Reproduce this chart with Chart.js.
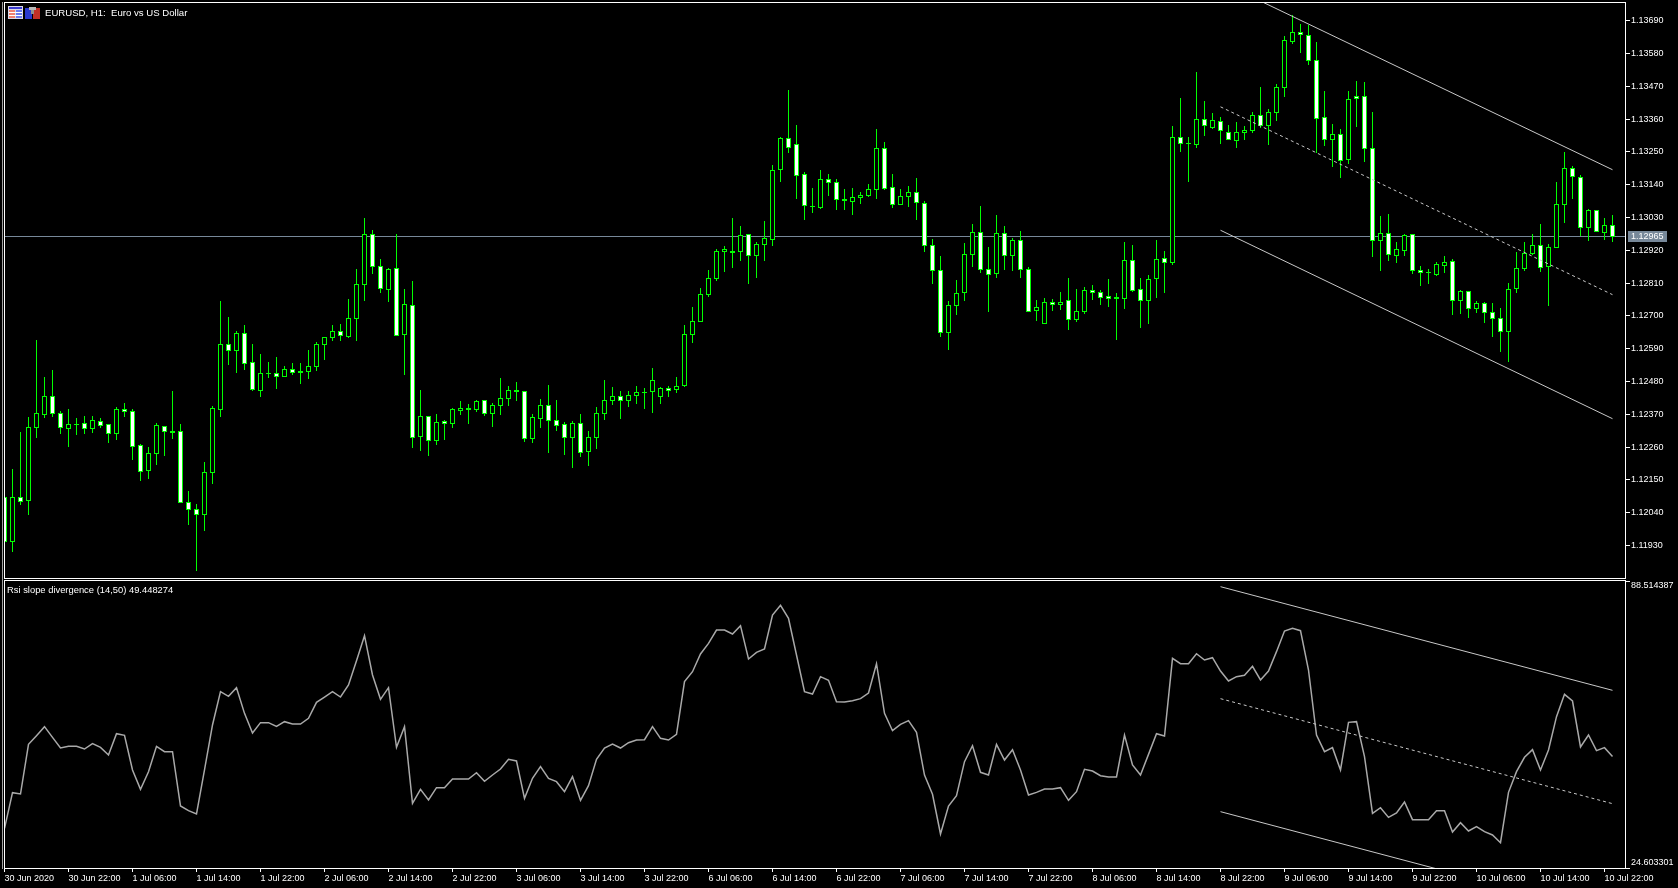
<!DOCTYPE html>
<html>
<head>
<meta charset="utf-8">
<title>EURUSD, H1</title>
<style>
    html, body { margin: 0; background: #000; overflow: hidden; }
    canvas { position: absolute; left: 0; }
    #priceChart { top: 0; }
    #rsiChart { top: 580px; }
    .caption { position: absolute; color: #fff; font: 9.6px "Liberation Sans", sans-serif; white-space: pre; line-height: 12px; }
    #strip { position: absolute; left: 2px; top: 2px; width: 1px; height: 867px; background: #a0a0a0; }
    svg { position: absolute; }
</style>
</head>
<body>
<div id="strip"></div>
<canvas id="priceChart" width="1678" height="580"></canvas>
<canvas id="rsiChart" width="1678" height="308"></canvas>
<svg style="left:8px;top:6px" width="15" height="13">
    <rect width="15" height="13" fill="#d8d8e8"/>
    <rect x="1" y="1" width="13" height="2" fill="#3a3ad0"/>
    <rect x="1" y="4" width="6" height="8" fill="#f08070"/>
    <rect x="8" y="4" width="6" height="8" fill="#6a7af0"/>
    <rect x="1" y="6" width="13" height="1" fill="#fff"/>
    <rect x="1" y="9" width="13" height="1" fill="#fff"/>
</svg>
<svg style="left:25px;top:7px" width="15" height="12">
    <rect y="1" width="7" height="11" fill="#2a3ad0"/>
    <rect x="8" y="1" width="7" height="11" fill="#c03028"/>
    <rect x="4" y="0" width="7" height="3" fill="#b8b8b8"/>
    <rect x="6" y="3" width="3" height="4" fill="#909090"/>
</svg>
<div class="caption" style="left:45px;top:7px">EURUSD, H1:  Euro vs US Dollar</div>
<div class="caption" style="left:7px;top:584px;font-size:9.4px">Rsi slope divergence (14,50) 49.448274</div>

<script src="https://cdn.jsdelivr.net/npm/chart.js"></script>
<script>
// candles, left to right, one per hour
const opens = [
    1.12091,1.11942,1.12091,1.12080,1.12325,1.12370,1.12430,1.12373,1.12321,1.12336,
    1.12340,1.12321,1.12346,1.12336,1.12305,1.12386,1.12380,1.12266,1.12181,1.12238,
    1.12330,1.12313,1.12313,1.12075,1.12051,1.12033,1.12174,1.12385,1.12605,1.12583,
    1.12641,1.12544,1.12449,1.12507,1.12507,1.12496,1.12521,1.12514,1.12513,1.12529,
    1.12603,1.12627,1.12648,1.12630,1.12690,1.12805,1.12973,1.12866,1.12788,1.12859,
    1.12636,1.12735,1.12295,1.12363,1.12281,1.12346,1.12338,1.12382,1.12390,1.12385,
    1.12417,1.12372,1.12399,1.12422,1.12450,1.12447,1.12288,1.12355,1.12400,1.12350,
    1.12336,1.12291,1.12340,1.12244,1.12291,1.12372,1.12415,1.12430,1.12415,1.12432,
    1.12443,1.12446,1.12429,1.12457,1.12452,1.12466,1.12637,1.12680,1.12771,1.12825,
    1.12916,1.12916,1.12915,1.12973,1.12902,1.12939,1.12955,1.13190,1.13295,1.13275,
    1.13175,1.13066,1.13063,1.13158,1.13148,1.13091,1.13083,1.13096,1.13103,1.13123,
    1.13262,1.13131,1.13073,1.13100,1.13114,1.13077,1.12937,1.12853,1.12643,1.12734,
    1.12778,1.12905,1.12980,1.12856,1.12841,1.12977,1.12902,1.12953,1.12856,1.12717,
    1.12674,1.12745,1.12737,1.12752,1.12687,1.12714,1.12786,1.12779,1.12765,1.12762,
    1.12759,1.12886,1.12789,1.12752,1.12825,1.12893,1.12878,1.13299,1.13279,1.13274,
    1.13359,1.13333,1.13352,1.13315,1.13287,1.13314,1.13321,1.13372,1.13338,1.13381,
    1.13465,1.13619,1.13651,1.13641,1.13557,1.13366,1.13292,1.13309,1.13224,1.13436,
    1.13436,1.13262,1.12953,1.12977,1.12903,1.12918,1.12973,1.12853,1.12846,1.12840,
    1.12870,1.12883,1.12752,1.12782,1.12724,1.12742,1.12712,1.12692,1.12648,1.12791,
    1.12858,1.12908,1.12937,1.12866,1.12930,1.13074,1.13194,1.13165,1.12997,1.13054,
    1.12980,1.13003
];
const highs = [
    1.12091,1.12185,1.12309,1.12360,1.12619,1.12494,1.12518,1.12381,1.12386,1.12356,
    1.12364,1.12364,1.12356,1.12336,1.12394,1.12407,1.12386,1.12270,1.12260,1.12340,
    1.12330,1.12447,1.12336,1.12113,1.12069,1.12209,1.12397,1.12749,1.12695,1.12648,
    1.12668,1.12605,1.12571,1.12544,1.12561,1.12531,1.12541,1.12541,1.12584,1.12611,
    1.12628,1.12668,1.12672,1.12755,1.12856,1.13027,1.12988,1.12890,1.12862,1.12973,
    1.12790,1.12817,1.12451,1.12363,1.12371,1.12351,1.12390,1.12414,1.12404,1.12418,
    1.12417,1.12408,1.12490,1.12465,1.12478,1.12447,1.12371,1.12421,1.12468,1.12418,
    1.12343,1.12346,1.12371,1.12314,1.12393,1.12485,1.12461,1.12447,1.12447,1.12465,
    1.12457,1.12525,1.12460,1.12465,1.12495,1.12669,1.12730,1.12793,1.12854,1.12923,
    1.12934,1.13028,1.13001,1.12973,1.12947,1.13018,1.13205,1.13299,1.13456,1.13339,
    1.13181,1.13128,1.13188,1.13175,1.13158,1.13124,1.13128,1.13114,1.13141,1.13326,
    1.13282,1.13175,1.13124,1.13137,1.13161,1.13084,1.12957,1.12900,1.12749,1.12820,
    1.12943,1.13007,1.13067,1.12930,1.13037,1.13000,1.12960,1.12984,1.12865,1.12752,
    1.12759,1.12757,1.12780,1.12827,1.12790,1.12796,1.12803,1.12787,1.12823,1.12777,
    1.12946,1.12937,1.12826,1.12836,1.12953,1.12916,1.13335,1.13429,1.13299,1.13517,
    1.13420,1.13379,1.13366,1.13339,1.13349,1.13335,1.13382,1.13466,1.13393,1.13476,
    1.13638,1.13708,1.13679,1.13675,1.13617,1.13453,1.13343,1.13326,1.13453,1.13487,
    1.13483,1.13382,1.13035,1.13042,1.12947,1.12973,1.12973,1.12866,1.12856,1.12880,
    1.12900,1.12890,1.12786,1.12782,1.12749,1.12745,1.12743,1.12726,1.12810,1.12913,
    1.12948,1.12974,1.13007,1.12941,1.13149,1.13249,1.13201,1.13171,1.13058,1.13054,
    1.13028,1.13037
];
const lows = [
    1.11921,1.11909,1.12066,1.12032,1.12290,1.12358,1.12361,1.12304,1.12260,1.12300,
    1.12304,1.12307,1.12324,1.12274,1.12284,1.12361,1.12217,1.12146,1.12153,1.12200,
    1.12230,1.12287,1.12073,1.11998,1.11844,1.11978,1.12136,1.12361,1.12535,1.12508,
    1.12518,1.12447,1.12428,1.12492,1.12455,1.12496,1.12502,1.12471,1.12488,1.12515,
    1.12552,1.12616,1.12616,1.12626,1.12616,1.12750,1.12840,1.12777,1.12746,1.12635,
    1.12502,1.12257,1.12247,1.12230,1.12267,1.12284,1.12324,1.12367,1.12337,1.12377,
    1.12364,1.12328,1.12367,1.12398,1.12414,1.12277,1.12274,1.12324,1.12240,1.12314,
    1.12233,1.12190,1.12227,1.12196,1.12253,1.12351,1.12401,1.12354,1.12394,1.12404,
    1.12387,1.12374,1.12404,1.12428,1.12441,1.12461,1.12609,1.12680,1.12763,1.12817,
    1.12848,1.12860,1.12884,1.12808,1.12827,1.12884,1.12934,1.13149,1.13246,1.13092,
    1.13021,1.13045,1.13058,1.13102,1.13055,1.13055,1.13038,1.13075,1.13098,1.13092,
    1.13122,1.13062,1.13073,1.13065,1.13021,1.12914,1.12808,1.12630,1.12585,1.12703,
    1.12750,1.12865,1.12844,1.12713,1.12827,1.12854,1.12851,1.12827,1.12714,1.12683,
    1.12674,1.12716,1.12720,1.12652,1.12679,1.12706,1.12753,1.12736,1.12730,1.12619,
    1.12723,1.12781,1.12659,1.12673,1.12761,1.12777,1.12872,1.13250,1.13149,1.13263,
    1.13304,1.13327,1.13276,1.13292,1.13263,1.13290,1.13313,1.13330,1.13273,1.13354,
    1.13434,1.13612,1.13582,1.13541,1.13246,1.13270,1.13200,1.13162,1.13209,1.13333,
    1.13216,1.12897,1.12851,1.12884,1.12877,1.12901,1.12840,1.12800,1.12808,1.12834,
    1.12844,1.12703,1.12706,1.12693,1.12709,1.12676,1.12630,1.12579,1.12545,1.12776,
    1.12851,1.12903,1.12848,1.12733,1.12930,1.13011,1.13092,1.12967,1.12952,1.12980,
    1.12955,1.12949
];
const closes = [
    1.11942,1.12091,1.12077,1.12326,1.12373,1.12430,1.12372,1.12325,1.12336,1.12336,
    1.12321,1.12350,1.12332,1.12305,1.12386,1.12378,1.12261,1.12177,1.12239,1.12333,
    1.12311,1.12309,1.12073,1.12050,1.12033,1.12175,1.12390,1.12605,1.12583,1.12641,
    1.12540,1.12452,1.12507,1.12507,1.12496,1.12521,1.12510,1.12511,1.12531,1.12605,
    1.12628,1.12648,1.12635,1.12692,1.12806,1.12973,1.12865,1.12792,1.12856,1.12635,
    1.12739,1.12292,1.12363,1.12281,1.12343,1.12338,1.12386,1.12390,1.12386,1.12413,
    1.12372,1.12400,1.12423,1.12450,1.12447,1.12288,1.12360,1.12400,1.12348,1.12332,
    1.12291,1.12340,1.12241,1.12293,1.12373,1.12417,1.12430,1.12415,1.12433,1.12443,
    1.12443,1.12484,1.12457,1.12449,1.12464,1.12638,1.12682,1.12772,1.12826,1.12916,
    1.12923,1.12913,1.12970,1.12902,1.12940,1.12960,1.13188,1.13295,1.13264,1.13170,
    1.13069,1.13066,1.13158,1.13147,1.13090,1.13088,1.13098,1.13104,1.13124,1.13262,
    1.13126,1.13073,1.13101,1.13114,1.13079,1.12935,1.12852,1.12643,1.12735,1.12776,
    1.12906,1.12980,1.12855,1.12838,1.12977,1.12902,1.12953,1.12855,1.12714,1.12729,
    1.12745,1.12737,1.12745,1.12687,1.12715,1.12786,1.12778,1.12761,1.12759,1.12759,
    1.12886,1.12784,1.12752,1.12823,1.12890,1.12880,1.13299,1.13279,1.13279,1.13359,
    1.13338,1.13356,1.13321,1.13292,1.13315,1.13322,1.13372,1.13338,1.13382,1.13466,
    1.13624,1.13651,1.13643,1.13556,1.13361,1.13291,1.13309,1.13220,1.13426,1.13428,
    1.13260,1.12953,1.12977,1.12905,1.12923,1.12970,1.12852,1.12846,1.12846,1.12873,
    1.12880,1.12752,1.12782,1.12725,1.12742,1.12712,1.12692,1.12648,1.12789,1.12859,
    1.12909,1.12937,1.12862,1.12930,1.13074,1.13194,1.13168,1.12997,1.13054,1.12984,
    1.13003,1.12967
];
const rsiValues = [
    33.44,41.38,41.08,52.14,54.07,56.08,53.70,51.32,51.70,51.70,
    51.10,52.29,51.47,49.77,54.52,54.15,46.43,42.12,46.05,51.70,
    50.51,50.51,38.41,37.37,36.63,46.43,56.45,63.87,62.83,64.76,
    59.04,54.66,56.97,56.97,56.15,57.19,56.67,56.67,57.93,61.49,
    62.68,63.87,62.68,65.35,70.77,76.34,67.58,62.16,64.76,51.47,
    56.08,39.00,42.12,39.74,42.49,42.49,44.42,44.42,44.42,45.83,
    43.90,45.31,46.65,48.80,48.43,40.12,44.57,47.17,44.57,43.83,
    41.60,44.94,39.67,42.94,48.80,51.32,52.22,51.32,52.51,53.11,
    53.18,56.08,53.48,53.11,54.37,66.10,68.32,72.26,74.63,77.60,
    77.60,76.71,78.57,71.14,72.63,73.37,80.94,83.10,80.20,72.03,
    63.87,63.35,67.21,66.39,61.64,61.57,61.87,62.31,63.57,70.10,
    59.04,55.18,56.59,57.41,54.81,45.31,41.01,32.17,38.41,40.71,
    48.28,51.84,45.91,45.31,52.14,48.65,50.95,46.43,40.86,41.45,
    42.19,42.19,42.49,39.67,41.60,46.57,46.20,45.16,44.87,44.87,
    54.22,47.54,45.31,49.91,54.52,54.00,71.29,70.10,70.10,72.33,
    70.92,71.44,68.47,66.24,67.21,67.51,69.51,66.47,68.47,72.78,
    77.38,77.97,77.45,68.69,54.22,50.51,51.40,46.43,57.04,57.19,
    49.39,36.78,38.04,35.88,36.85,39.30,35.37,35.37,35.37,37.37,
    37.37,32.62,34.70,32.84,33.81,32.69,31.95,30.24,41.45,46.05,
    49.25,50.95,46.43,50.88,58.30,63.28,61.79,51.55,54.22,50.73,
    51.40,49.45
];

const priceTicks = [1.1369,1.1358,1.1347,1.1336,1.1325,1.1314,1.1303,1.1292,1.1281,1.127,1.1259,1.1248,1.1237,1.1226,1.1215,1.1204,1.1193];
const rsiTicks = [24.603301, 88.514387];
const timeTickIndex = [0,8,16,24,32,40,48,56,64,72,80,88,96,104,112,120,128,136,144,152,160,168,176,184,192,200];
const timeLabels = ['30 Jun 2020','30 Jun 22:00','1 Jul 06:00','1 Jul 14:00','1 Jul 22:00','2 Jul 06:00','2 Jul 14:00','2 Jul 22:00','3 Jul 06:00',
    '3 Jul 14:00','3 Jul 22:00','6 Jul 06:00','6 Jul 14:00','6 Jul 22:00','7 Jul 06:00','7 Jul 14:00','7 Jul 22:00','8 Jul 06:00','8 Jul 14:00',
    '8 Jul 22:00','9 Jul 06:00','9 Jul 14:00','9 Jul 22:00','10 Jul 06:00','10 Jul 14:00','10 Jul 22:00'];
const lastPrice = 1.12965;

// channel ends: bar index, then value at each end
const channelBars = [152, 201];
const priceUpper = [1.13820, 1.13190];
const priceMiddle = [1.13401, 1.12771];
const priceLower = [1.12987, 1.12355];
const rsiUpper = [87.25, 64.17];
const rsiMiddle = [62.31, 38.93];
const rsiLower = [37.15, 14.06];

const xMin = 0.0625, xMax = 202.5625;
const priceMin = 1.118207, priceMax = 1.137492;
const rsiMin = 24.603301, rsiMax = 88.514387;

const green = '#00ff00';
const axisFont = { family: 'Liberation Sans', size: 9 };

function channelSet(values, dash) {
    return {
        type: 'line',
        data: channelBars.map((bar, i) => ({ x: bar, y: values[i] })),
        borderColor: '#c8c8c8',
        borderWidth: 1,
        borderDash: dash,
        pointRadius: 0,
        order: 1
    };
}

// bars come out on fractional pixels, the original is crisp
const snapPlugin = {
    id: 'snap',
    afterDatasetsUpdate(chart) {
        chart.data.datasets.forEach((set, n) => {
            const els = chart.getDatasetMeta(n).data;
            if (set.snap === 'wick' || set.snap === 'body') {
                els.forEach(el => {
                    const top = Math.min(el.y, el.base), bot = Math.max(el.y, el.base);
                    el.x = Math.floor(el.x) + 0.5;
                    el.y = set.snap === 'body' ? Math.floor(top) : Math.round(top);
                    el.base = set.snap === 'body' ? Math.floor(bot) + 1 : Math.round(bot);
                });
            } else if (set.snap === 'line') {
                els.forEach(el => { el.y = Math.floor(el.y) + 0.5; });
            }
        });
    }
};

const framePlugin = {
    id: 'frame',
    afterDraw(chart) {
        const a = chart.chartArea, ctx = chart.ctx;
        ctx.save();
        ctx.strokeStyle = '#fff';
        ctx.lineWidth = 1;
        ctx.strokeRect(a.left - 0.5, a.top - 0.5, a.width + 1, a.height + 1);
        ctx.restore();
    }
};

const lastPricePlugin = {
    id: 'lastPriceBox',
    afterDraw(chart) {
        const y = Math.floor(chart.scales.y.getPixelForValue(lastPrice)), ctx = chart.ctx;
        ctx.save();
        ctx.fillStyle = '#778899';
        ctx.fillRect(1628, y - 5, 39, 11);
        ctx.fillStyle = '#fff';
        ctx.font = '9px "Liberation Sans"';
        ctx.textBaseline = 'middle';
        ctx.fillText(lastPrice.toFixed(5), 1631, y + 1);
        ctx.restore();
    }
};

// the two rsi labels sit inside the pane, not centred on their ticks
const rsiLabelPlugin = {
    id: 'rsiLabels',
    afterDraw(chart) {
        const s = chart.scales.y, ctx = chart.ctx;
        ctx.save();
        ctx.fillStyle = '#fff';
        ctx.font = '9px "Liberation Sans"';
        ctx.textBaseline = 'middle';
        ctx.fillText(rsiTicks[1].toFixed(6), 1631, s.getPixelForValue(rsiTicks[1]) + 5);
        ctx.fillText(rsiTicks[0].toFixed(6), 1631, s.getPixelForValue(rsiTicks[0]) - 5);
        ctx.restore();
    }
};

const tickGrid = { drawOnChartArea: false, color: '#fff', tickLength: 5 };

new Chart(document.getElementById('priceChart'), {
    type: 'bar',
    data: {
        datasets: [
            channelSet(priceUpper, []),
            channelSet(priceMiddle, [3, 3]),
            channelSet(priceLower, []),
            {
                snap: 'body',
                data: opens.map((o, i) => ({ x: i, y: [o, closes[i]] })),
                backgroundColor: opens.map((o, i) => closes[i] < o ? '#fff' : '#000'),
                borderColor: green,
                borderWidth: 1,
                borderSkipped: false,
                inflateAmount: 0,
                grouped: false,
                maxBarThickness: 5,
                order: 2
            },
            {
                snap: 'wick',
                data: lows.map((l, i) => ({ x: i, y: [l, highs[i]] })),
                backgroundColor: green,
                borderWidth: 0,
                inflateAmount: 0,
                grouped: false,
                maxBarThickness: 1,
                order: 3
            },
            {
                type: 'line',
                snap: 'line',
                data: [{ x: xMin, y: lastPrice }, { x: xMax, y: lastPrice }],
                borderColor: '#778899',
                borderWidth: 1,
                pointRadius: 0,
                order: 4
            }
        ]
    },
    options: {
        responsive: false,
        animation: false,
        layout: { padding: { left: 5, top: 3, bottom: 2 } },
        plugins: { legend: { display: false }, tooltip: { enabled: false } },
        scales: {
            x: { type: 'linear', min: xMin, max: xMax, offset: false, display: false },
            y: {
                position: 'right',
                min: priceMin,
                max: priceMax,
                beginAtZero: false,
                grid: tickGrid,
                border: { display: false },
                // labels must not push the plot area in, the pane runs to the frame
                afterFit: s => { s.width = 53; s.paddingTop = 0; s.paddingBottom = 0; },
                afterBuildTicks: s => { s.ticks = priceTicks.map(v => ({ value: v })); },
                ticks: { color: '#fff', font: axisFont, padding: 1, autoSkip: false, callback: v => v.toFixed(5) }
            }
        }
    },
    plugins: [snapPlugin, framePlugin, lastPricePlugin]
});

new Chart(document.getElementById('rsiChart'), {
    type: 'line',
    data: {
        datasets: [
            channelSet(rsiUpper, []),
            channelSet(rsiMiddle, [3, 3]),
            channelSet(rsiLower, []),
            {
                data: rsiValues.map((v, i) => ({ x: i, y: v })),
                borderColor: '#a9a9a9',
                borderWidth: 1.5,
                pointRadius: 0,
                tension: 0,
                order: 2
            }
        ]
    },
    options: {
        responsive: false,
        animation: false,
        layout: { padding: { left: 5, top: 1 } },
        plugins: { legend: { display: false }, tooltip: { enabled: false } },
        scales: {
            x: {
                type: 'linear',
                min: xMin,
                max: xMax,
                grid: { drawOnChartArea: false, color: '#fff', tickLength: 4 },
                border: { display: false },
                afterFit: s => { s.height = 20; },
                afterBuildTicks: s => { s.ticks = timeTickIndex.map(v => ({ value: v })); },
                ticks: {
                    color: '#fff', font: axisFont, padding: 1, autoSkip: false, align: 'start',
                    maxRotation: 0, minRotation: 0,
                    callback: (v, i) => timeLabels[i]
                }
            },
            y: {
                position: 'right',
                min: rsiMin,
                max: rsiMax,
                grid: tickGrid,
                border: { display: false },
                afterFit: s => { s.width = 53; },
                afterBuildTicks: s => { s.ticks = rsiTicks.map(v => ({ value: v })); },
                ticks: { display: false }
            }
        }
    },
    plugins: [framePlugin, rsiLabelPlugin]
});
</script>
</body>
</html>
